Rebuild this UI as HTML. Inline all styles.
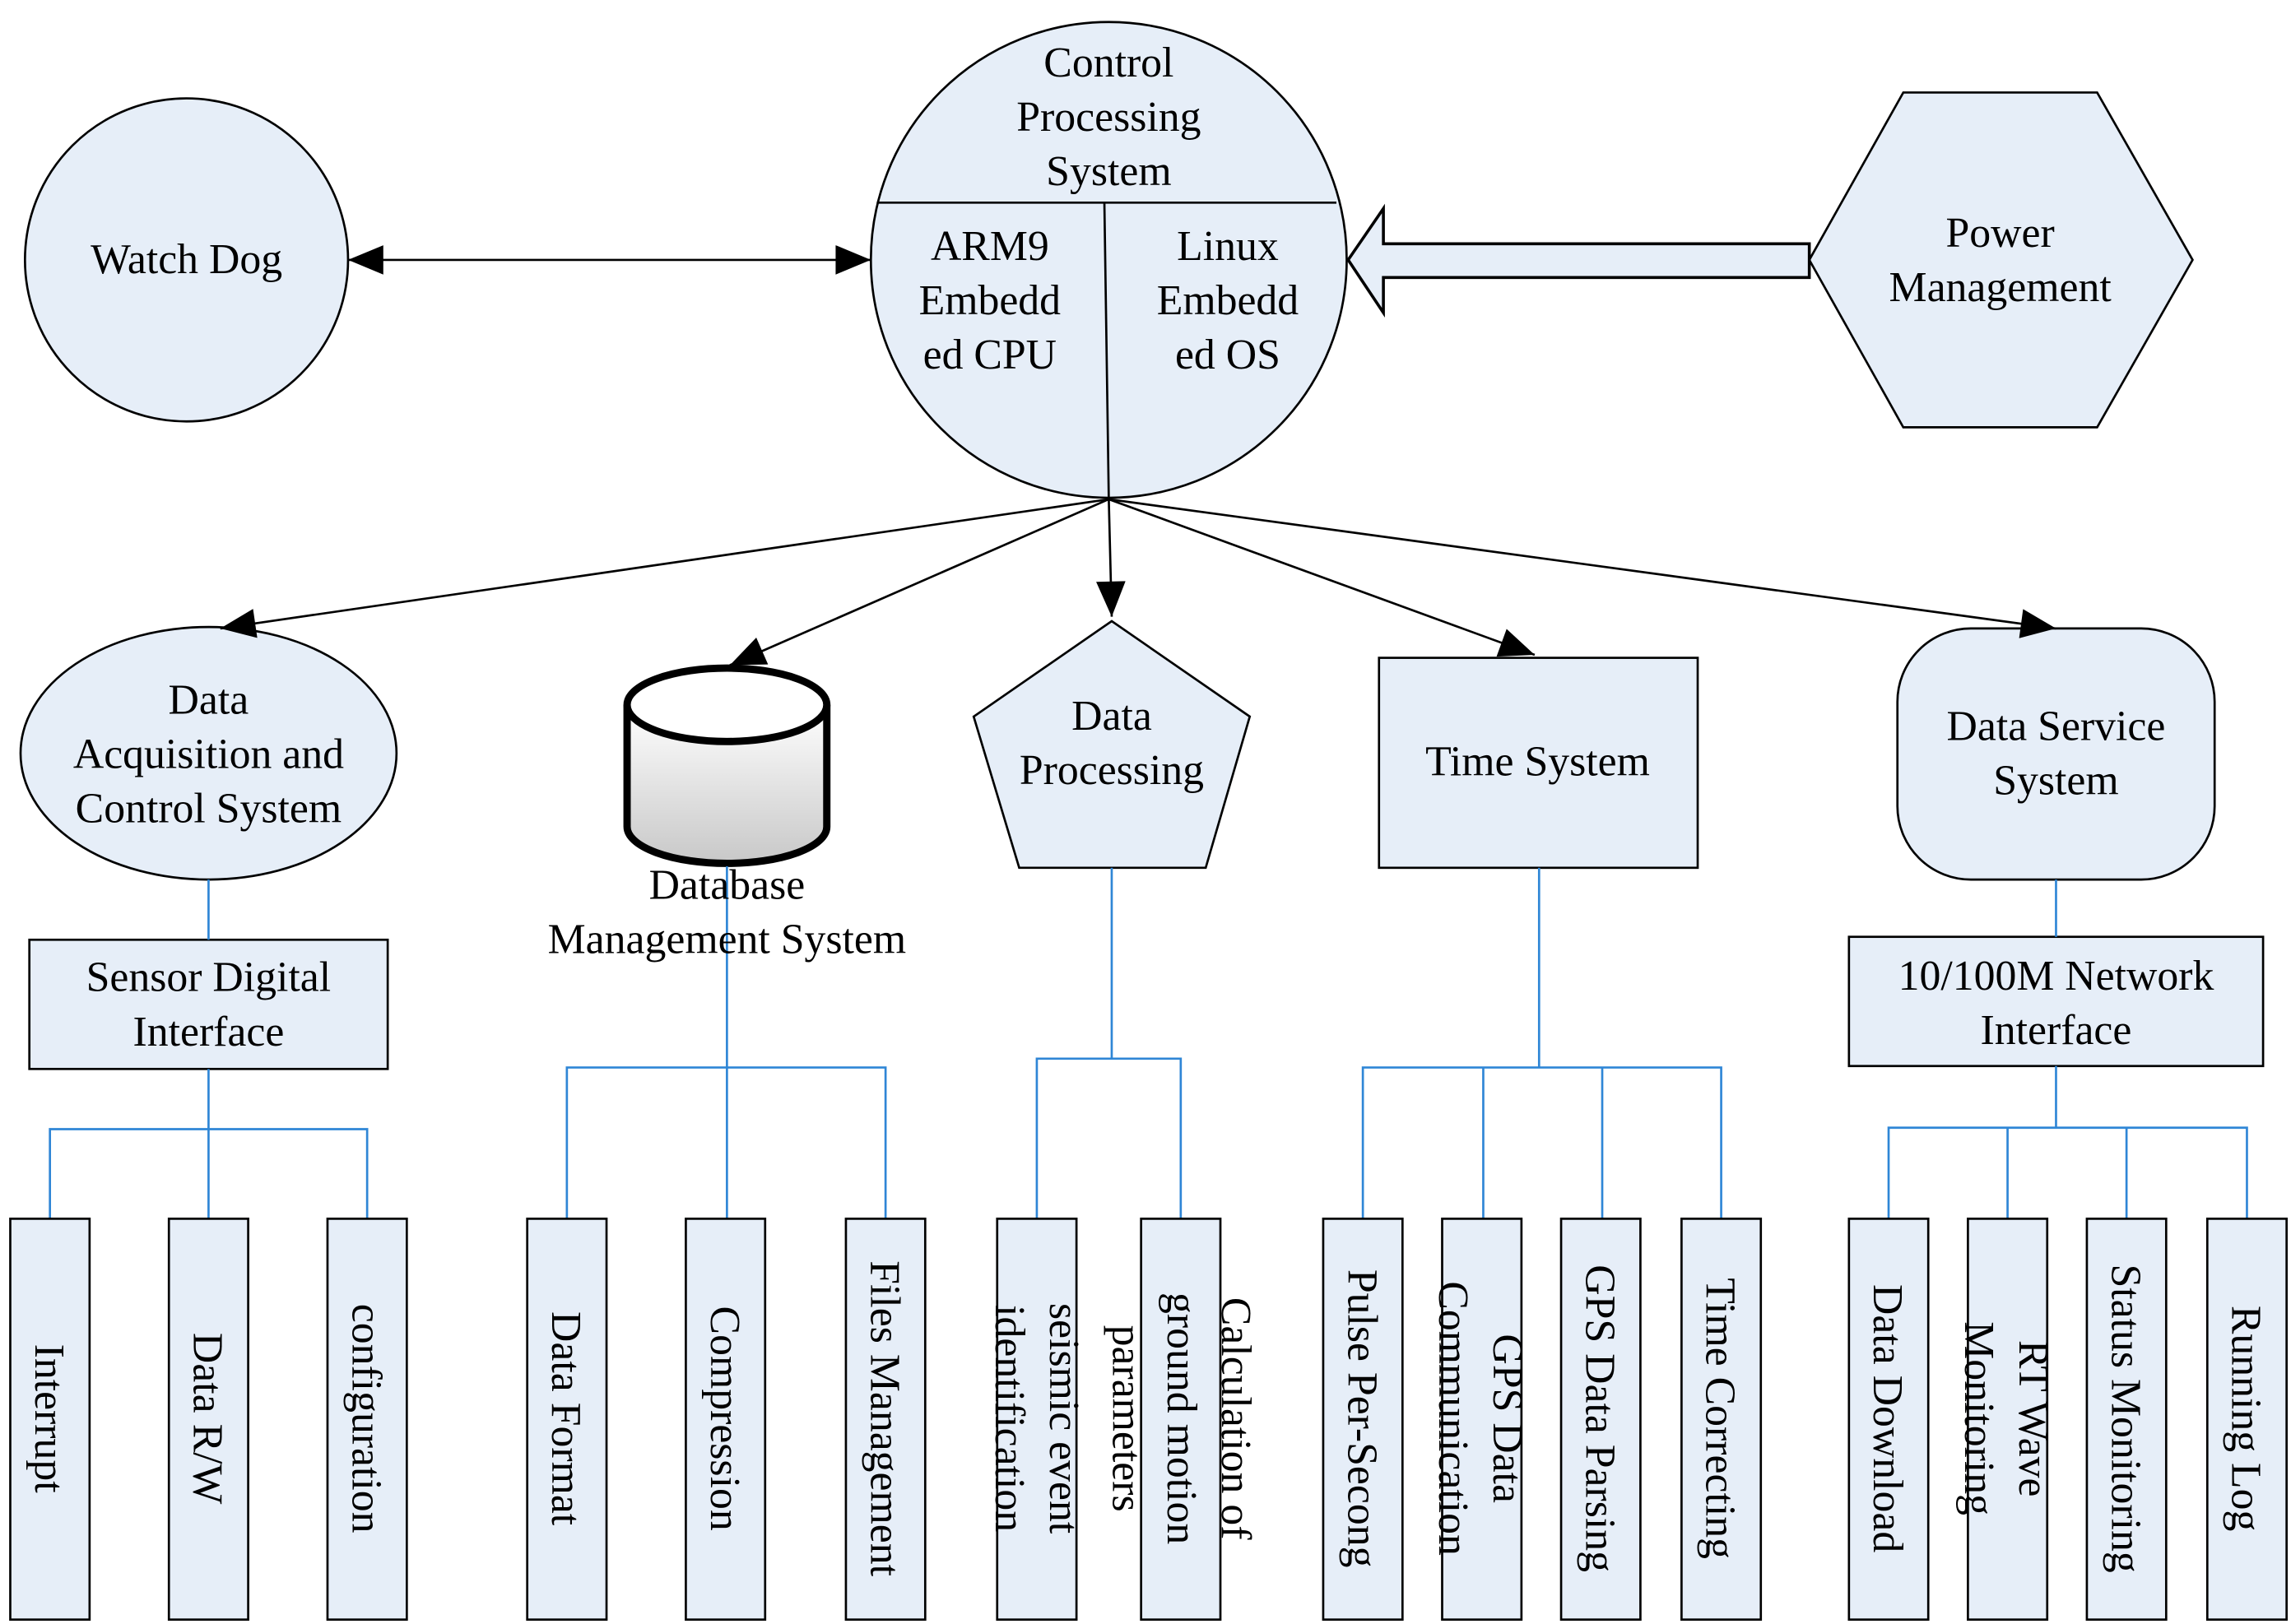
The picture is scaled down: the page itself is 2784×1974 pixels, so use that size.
<!DOCTYPE html>
<html><head><meta charset="utf-8"><style>
html,body{margin:0;padding:0;background:#fff;}
svg{display:block;}
text{font-family:"Liberation Serif",serif;font-size:29px;fill:#000;}
</style></head><body>
<svg width="2784" height="1974" viewBox="0 0 1560 1106" preserveAspectRatio="none" xmlns="http://www.w3.org/2000/svg">
<defs>
<marker id="ah2" viewBox="0 0 12 10" markerWidth="30" markerHeight="20" refX="12" refY="5" orient="auto" markerUnits="userSpaceOnUse">
<path d="M0,0 L12,5 L0,10 z" fill="#000"/></marker>
<marker id="ahs" viewBox="0 0 12 10" markerWidth="30" markerHeight="20" refX="0" refY="5" orient="auto" markerUnits="userSpaceOnUse">
<path d="M12,0 L0,5 L12,10 z" fill="#000"/></marker>
<linearGradient id="cyl" x1="0" x2="0" y1="0" y2="1"><stop offset="0" stop-color="#fff"/><stop offset="1" stop-color="#c8c8c8"/></linearGradient>
</defs>
<g fill="#e6eef8" stroke="#000" stroke-width="1.5">
<circle cx="127" cy="177" r="110"/>
<circle cx="755" cy="177" r="162"/>
<polygon points="1232,177 1296,63 1428,63 1493,177 1428,291 1296,291"/>
<polygon points="1232,166 942,166 942,142 918,177 942,213 942,189 1232,189" stroke-width="2"/>
<ellipse cx="142" cy="513" rx="128" ry="86"/>
<polygon points="757,423 851,488 821,591 694,591 663,488"/>
<rect x="939" y="448" width="217" height="143"/>
<rect x="1292" y="428" width="216" height="171" rx="50"/>
<rect x="20" y="640" width="244" height="88"/>
<rect x="1259" y="638" width="282" height="88"/>
</g>
<line x1="597" y1="138" x2="910" y2="138" stroke="#000" stroke-width="1.5"/>
<line x1="752" y1="138" x2="755" y2="340" stroke="#000" stroke-width="1.5"/>
<line x1="237" y1="177" x2="593" y2="177" stroke="#000" stroke-width="1.5" marker-start="url(#ahs)" marker-end="url(#ah2)"/>
<g stroke="#000" stroke-width="1.5" marker-end="url(#ah2)">
<line x1="755" y1="340" x2="150" y2="428"/>
<line x1="755" y1="340" x2="497" y2="453"/>
<line x1="755" y1="340" x2="757" y2="420"/>
<line x1="755" y1="340" x2="1045" y2="446"/>
<line x1="755" y1="340" x2="1400" y2="428"/>
</g>
<path d="M427,480 L427,563 A68,25 0 0 0 563,563 L563,480" fill="url(#cyl)" stroke="#000" stroke-width="5"/>
<ellipse cx="495" cy="480" rx="68" ry="25" fill="#fff" stroke="#000" stroke-width="5"/>
<g stroke="#2f86d6" stroke-width="1.5" fill="none">
<line x1="142" y1="599" x2="142" y2="640"/>
<line x1="142" y1="728" x2="142" y2="830"/>
<polyline points="34,830 34,769 250,769 250,830"/>
<line x1="495" y1="590" x2="495" y2="830"/>
<polyline points="386,830 386,727 603,727 603,830"/>
<line x1="757" y1="591" x2="757" y2="721"/>
<polyline points="706,830 706,721 804,721 804,830"/>
<line x1="1048" y1="591" x2="1048" y2="727"/>
<polyline points="928,830 928,727 1172,727 1172,830"/>
<line x1="1010" y1="727" x2="1010" y2="830"/><line x1="1091" y1="727" x2="1091" y2="830"/>
<line x1="1400" y1="599" x2="1400" y2="638"/>
<line x1="1400" y1="726" x2="1400" y2="768"/>
<polyline points="1286,830 1286,768 1530,768 1530,830"/>
<line x1="1367" y1="768" x2="1367" y2="830"/><line x1="1448" y1="768" x2="1448" y2="830"/>
</g>
<g fill="#e6eef8" stroke="#000" stroke-width="1.5">
<rect x="7" y="830" width="54" height="273"/><rect x="115" y="830" width="54" height="273"/><rect x="223" y="830" width="54" height="273"/>
<rect x="359" y="830" width="54" height="273"/><rect x="467" y="830" width="54" height="273"/><rect x="576" y="830" width="54" height="273"/>
<rect x="679" y="830" width="54" height="273"/><rect x="777" y="830" width="54" height="273"/>
<rect x="901" y="830" width="54" height="273"/><rect x="982" y="830" width="54" height="273"/><rect x="1063" y="830" width="54" height="273"/><rect x="1145" y="830" width="54" height="273"/>
<rect x="1259" y="830" width="54" height="273"/><rect x="1340" y="830" width="54" height="273"/><rect x="1421" y="830" width="54" height="273"/><rect x="1503" y="830" width="54" height="273"/>
</g>
<g text-anchor="middle">
<text x="127" y="186">Watch Dog</text>
<text x="755" y="52">Control</text><text x="755" y="89">Processing</text><text x="755" y="126">System</text>
<text x="674" y="177">ARM9</text><text x="674" y="214">Embedd</text><text x="674" y="251">ed CPU</text>
<text x="836" y="177">Linux</text><text x="836" y="214">Embedd</text><text x="836" y="251">ed OS</text>
<text x="1362" y="168">Power</text><text x="1362" y="205">Management</text>
<text x="142" y="486">Data</text><text x="142" y="523">Acquisition and</text><text x="142" y="560">Control System</text>
<text x="495" y="612">Database</text><text x="495" y="649">Management System</text>
<text x="757" y="497">Data</text><text x="757" y="534">Processing</text>
<text x="1047" y="528">Time System</text>
<text x="1400" y="504">Data Service</text><text x="1400" y="541">System</text>
<text x="142" y="675">Sensor Digital</text><text x="142" y="712">Interface</text>
<text x="1400" y="674">10/100M Network</text><text x="1400" y="711">Interface</text>
</g>
<g text-anchor="middle">
<text transform="translate(24,966) rotate(90)">Interrupt</text>
<text transform="translate(132,966) rotate(90)">Data R/W</text>
<text transform="translate(240,966) rotate(90)">configuration</text>
<text transform="translate(376,966) rotate(90)">Data Format</text>
<text transform="translate(484,966) rotate(90)">Compression</text>
<text transform="translate(593,966) rotate(90)">Files Management</text>
<text transform="translate(715,966) rotate(90)"><tspan x="0" dy="0">seismic event</tspan><tspan x="0" dy="37">identification</tspan></text>
<text transform="translate(832,966) rotate(90)"><tspan x="0" dy="0">Calculation of</tspan><tspan x="0" dy="37">ground motion</tspan><tspan x="0" dy="37">parameters</tspan></text>
<text transform="translate(918,966) rotate(90)">Pulse Per-Secong</text>
<text transform="translate(1017,966) rotate(90)"><tspan x="0" dy="0">GPS Data</tspan><tspan x="0" dy="37">Communication</tspan></text>
<text transform="translate(1080,966) rotate(90)">GPS Data Parsing</text>
<text transform="translate(1162,966) rotate(90)">Time Correcting</text>
<text transform="translate(1276,966) rotate(90)">Data Download</text>
<text transform="translate(1375,966) rotate(90)"><tspan x="0" dy="0">RT Wave</tspan><tspan x="0" dy="37">Monitoring</tspan></text>
<text transform="translate(1438,966) rotate(90)">Status Monitoring</text>
<text transform="translate(1520,966) rotate(90)">Running Log</text>
</g>
</svg>
</body></html>
